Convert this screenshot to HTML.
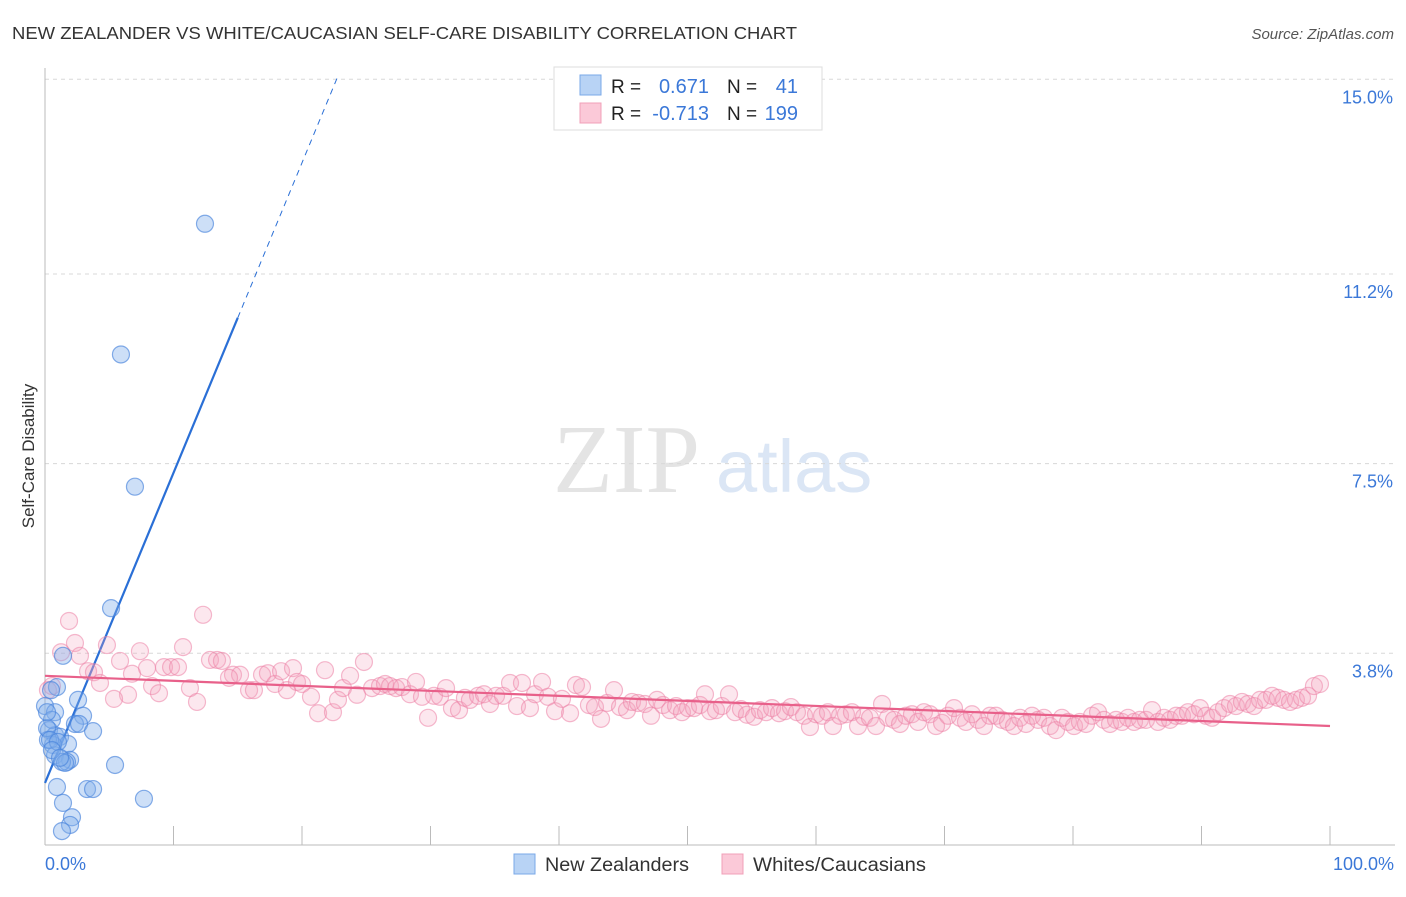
<!DOCTYPE html>
<html><head><meta charset="utf-8"><style>
body{margin:0;background:#fff;font-family:"Liberation Sans",sans-serif;}
svg text{font-family:"Liberation Sans",sans-serif;}
</style></head><body>
<svg id="chart" width="1406" height="892" viewBox="0 0 1406 892" xmlns="http://www.w3.org/2000/svg">
<text x="12" y="39" font-size="17.5" fill="#333" textLength="785" lengthAdjust="spacingAndGlyphs">NEW ZEALANDER VS WHITE/CAUCASIAN SELF-CARE DISABILITY CORRELATION CHART</text>
<text x="1394" y="39" font-size="15" fill="#555" font-style="italic" text-anchor="end">Source: ZipAtlas.com</text>
<g>
<text x="553" y="492" font-size="98" fill="#e4e4e4" font-family="Liberation Serif, serif" style="font-family:'Liberation Serif',serif">ZIP</text>
<text x="716" y="492" font-size="74" fill="#dbe6f5">atlas</text>
</g>
<g id="grid"></g><g id="axes"></g><g id="trend"></g><g id="points"></g>
<text x="34" y="456" font-size="17" fill="#333" text-anchor="middle" transform="rotate(-90 34 456)">Self-Care Disability</text>
<g>
<rect x="554" y="67" width="268" height="63" fill="#fff" stroke="#ddd"/>
<rect x="580" y="75" width="21" height="20" fill="#b8d3f5" stroke="#7aa8e8"/>
<rect x="580" y="103" width="21" height="20" fill="#fbc9d8" stroke="#f0a0b8"/>
<text x="611" y="93" font-size="19" fill="#222">R =</text>
<text x="709" y="93" font-size="20" fill="#3b78d8" text-anchor="end">0.671</text>
<text x="727" y="93" font-size="19" fill="#222">N =</text>
<text x="798" y="93" font-size="20" fill="#3b78d8" text-anchor="end">41</text>
<text x="611" y="120" font-size="19" fill="#222">R =</text>
<text x="709" y="120" font-size="20" fill="#3b78d8" text-anchor="end">-0.713</text>
<text x="727" y="120" font-size="19" fill="#222">N =</text>
<text x="798" y="120" font-size="20" fill="#3b78d8" text-anchor="end">199</text>
</g>
<g>
<rect x="514" y="854" width="21" height="20" fill="#b8d3f5" stroke="#7aa8e8"/>
<text x="545" y="871" font-size="19" fill="#333" textLength="144" lengthAdjust="spacingAndGlyphs">New Zealanders</text>
<rect x="722" y="854" width="21" height="20" fill="#fbc9d8" stroke="#f0a0b8"/>
<text x="753" y="871" font-size="19" fill="#333" textLength="173" lengthAdjust="spacingAndGlyphs">Whites/Caucasians</text>
</g>
</svg>
<script>
const yTicks=[15.0,11.2,7.5,3.8];
const yTickLabels=["15.0%","11.2%","7.5%","3.8%"];
const xTickLabels=["0.0%","100.0%"];
const blueX=[12.45,5.91,7.0,5.14,1.4,0.93,0.47,2.57,0,0.78,2.96,2.33,2.65,0.31,0.78,1.17,1.79,3.74,0.62,0.23,0.78,1.95,1.71,1.32,1.56,5.45,0.93,3.27,3.74,7.7,1.4,2.1,1.95,1.32,0.54,0.16,0.39,1.01,0.54,1.17,0.16];
const blueY=[12.18,9.63,7.05,4.68,3.75,3.14,3.08,2.89,2.77,2.65,2.58,2.42,2.42,2.30,2.20,2.17,2.03,2.28,2.01,2.11,1.81,1.72,1.68,1.68,1.66,1.62,1.19,1.15,1.15,0.96,0.88,0.6,0.45,0.33,2.5,2.34,2.11,2.07,1.91,1.76,2.65];
const pinkX=[1.87,1.25,2.33,2.72,4.82,7.39,12.3,10.74,3.35,3.81,4.28,5.84,6.77,7.94,9.26,9.81,10.35,8.33,8.87,6.46,5.37,11.28,11.83,12.84,13.39,13.77,14.63,15.18,14.32,15.88,16.26,16.89,17.35,17.9,18.37,18.83,19.3,19.61,20.0,20.7,21.25,21.79,22.41,22.8,23.19,23.74,24.28,24.82,25.45,26.07,26.46,26.85,27.32,27.78,28.4,28.87,29.34,29.81,30.27,30.74,31.21,31.67,32.22,32.68,33.07,33.7,34.16,34.63,35.1,35.64,36.19,36.73,37.12,37.74,38.13,38.68,39.14,39.69,40.23,40.86,41.32,41.79,42.33,42.8,43.27,43.74,44.28,44.75,45.29,45.68,46.15,46.69,47.16,47.63,48.09,48.64,49.11,49.57,50.04,50.51,50.97,51.36,51.75,52.22,52.68,53.23,53.7,54.16,54.63,55.18,55.64,56.11,56.58,57.12,57.59,58.05,58.52,59.07,59.53,60.0,60.47,60.93,61.32,61.87,62.33,62.8,63.27,63.74,64.2,64.67,65.14,65.6,66.07,66.54,67.0,67.47,67.94,68.4,68.87,69.34,69.81,70.27,70.74,71.21,71.67,72.14,72.61,73.07,73.54,74.01,74.47,74.94,75.41,75.88,76.34,76.81,77.28,77.74,78.21,78.68,79.14,79.61,80.08,80.54,81.01,81.48,81.95,82.41,82.88,83.35,83.81,84.28,84.75,85.21,85.68,86.15,86.61,87.08,87.55,88.02,88.48,88.95,89.42,89.88,90.35,90.82,91.28,91.75,92.22,92.68,93.15,93.62,94.09,94.55,95.02,95.49,95.95,96.42,96.89,97.35,97.82,98.29,98.75,99.22,0.23,0.54];
const pinkY=[4.43,3.82,4.00,3.75,3.96,3.84,4.55,3.92,3.45,3.43,3.22,3.65,3.40,3.51,3.53,3.53,3.53,3.16,3.02,2.99,2.91,3.12,2.85,3.67,3.67,3.65,3.38,3.38,3.32,3.08,3.08,3.38,3.41,3.20,3.45,3.08,3.51,3.24,3.20,2.95,2.63,3.47,2.65,2.89,3.12,3.36,2.99,3.63,3.12,3.16,3.20,3.16,3.12,3.14,3.00,3.24,2.95,2.54,2.97,2.95,3.12,2.73,2.69,2.93,2.89,2.97,3.00,2.81,2.97,2.97,3.22,2.77,3.22,2.73,3.00,3.24,2.95,2.67,2.91,2.63,3.18,3.14,2.79,2.75,2.52,2.83,3.08,2.75,2.69,2.85,2.83,2.81,2.58,2.89,2.79,2.69,2.77,2.65,2.73,2.73,2.79,3.00,2.67,2.69,2.77,3.00,2.65,2.71,2.60,2.56,2.69,2.65,2.73,2.63,2.67,2.75,2.65,2.58,2.36,2.61,2.58,2.65,2.38,2.58,2.61,2.65,2.38,2.56,2.54,2.38,2.81,2.54,2.50,2.42,2.58,2.61,2.46,2.65,2.61,2.38,2.44,2.58,2.73,2.54,2.46,2.61,2.50,2.38,2.58,2.58,2.50,2.46,2.38,2.54,2.42,2.58,2.50,2.54,2.38,2.30,2.54,2.46,2.38,2.46,2.42,2.58,2.65,2.50,2.42,2.50,2.46,2.54,2.46,2.50,2.50,2.69,2.46,2.54,2.50,2.58,2.58,2.65,2.61,2.73,2.58,2.54,2.65,2.73,2.81,2.77,2.85,2.81,2.77,2.89,2.89,2.97,2.93,2.89,2.85,2.89,2.93,2.97,3.16,3.20,3.08,3.16];
const blueTrend=[1.27,0.605];
const pinkTrend=[3.36,-0.0098];
const X0=45,X1=1330,Y0=848,PPY=51.25;
const sx=v=>X0+(X1-X0)*v/100;
const sy=v=>Y0-v*PPY;
const NS="http://www.w3.org/2000/svg";
function mk(tag,attrs,parent){const e=document.createElementNS(NS,tag);for(const k in attrs)e.setAttribute(k,attrs[k]);parent.appendChild(e);return e;}
const grid=document.getElementById('grid'),axes=document.getElementById('axes'),trend=document.getElementById('trend'),pts=document.getElementById('points');
yTicks.forEach((t,i)=>{
 const l=mk('line',{x1:45,x2:1395,y1:sy(t),y2:sy(t),stroke:'#d8d8d8','stroke-dasharray':'4,4'},grid);
 
 
 const tx=mk('text',{x:1393,y:sy(t)+24,'font-size':18,fill:'#3b78d8','text-anchor':'end'},grid);
 tx.textContent=yTickLabels[i];
 
 
});
const ya=mk('line',{x1:45,x2:45,y1:68,y2:845,stroke:'#bbb'},axes);


const xa=mk('line',{x1:45,x2:1395,y1:845,y2:845,stroke:'#bbb'},axes);


for(let k=1;k<=10;k++){
 const t=mk('line',{x1:sx(k*10),x2:sx(k*10),y1:826,y2:845,stroke:'#bbb'},axes);
 
 
}
const xl0=mk('text',{x:45,y:870,'font-size':18,fill:'#3b78d8'},axes);xl0.textContent=xTickLabels[0];


const xl1=mk('text',{x:1394,y:870,'font-size':18,fill:'#3b78d8','text-anchor':'end'},axes);xl1.textContent=xTickLabels[1];


pinkX.forEach((x,i)=>{
 const c=mk('circle',{cx:sx(x),cy:sy(pinkY[i]),r:8.5,fill:'rgba(244,160,188,0.25)',stroke:'rgba(236,130,165,0.55)','stroke-width':1.2},pts);
 
 
});
blueX.forEach((x,i)=>{
 const c=mk('circle',{cx:sx(x),cy:sy(blueY[i]),r:8.5,fill:'rgba(130,175,235,0.4)',stroke:'rgba(70,130,220,0.65)','stroke-width':1.2},pts);
 
 
});
const bEnd=15,bDash=22.8;
const bl=mk('line',{x1:sx(0),y1:sy(blueTrend[0]),x2:sx(bEnd),y2:sy(blueTrend[0]+blueTrend[1]*bEnd),stroke:'#2a6fd6','stroke-width':2.2},trend);


const bd=mk('line',{x1:sx(bEnd),y1:sy(blueTrend[0]+blueTrend[1]*bEnd),x2:sx(bDash),y2:sy(blueTrend[0]+blueTrend[1]*bDash),stroke:'#2a6fd6','stroke-width':1,'stroke-dasharray':'6,5'},trend);


const pl=mk('line',{x1:sx(0),y1:sy(pinkTrend[0]),x2:sx(100),y2:sy(pinkTrend[0]+pinkTrend[1]*100),stroke:'#e8608a','stroke-width':2.2},pts);


</script>
</body></html>
